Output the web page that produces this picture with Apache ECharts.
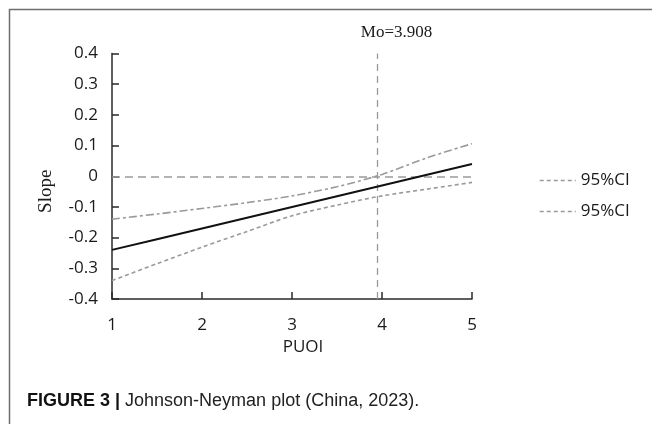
<!DOCTYPE html>
<html>
<head>
<meta charset="utf-8">
<script src="https://cdn.jsdelivr.net/npm/echarts@6/dist/echarts.min.js"></script>
<style>
  html, body { margin: 0; padding: 0; background: #fff; }
  #chart { width: 652px; height: 424px; }
</style>
</head>
<body>
<div id="chart"></div>
<script>
// values
const xValues = [1, 1.5, 2, 2.5, 3, 3.5, 4, 4.5, 5]
const slope = [-0.24, -0.205, -0.17, -0.135, -0.1, -0.065, -0.03, 0.005, 0.04]
const ciUpper = [-0.14, -0.123, -0.105, -0.086, -0.064, -0.034, 0.006, 0.06, 0.106]
const ciLower = [-0.34, -0.285, -0.231, -0.18, -0.129, -0.094, -0.064, -0.042, -0.02]
const xTicks = [1, 2, 3, 4, 5]
const moPosition = 3.95
const moLabel = 'Mo=3.908'
const legendLabel = '95%CI'
const captionBold = 'FIGURE 3 |'
const captionText = ' Johnson-Neyman plot (China, 2023).'

const gray = '#9a9a9a'
const ink = '#1a1a1a'
const sans = '"Open Sans", sans-serif'
const serif = '"Liberation Serif", "DejaVu Serif", serif'

function pairs(ys) {
  return xValues.map((x, ii) => [x, ys[ii]])
}

const legendLine = { type: [4, 3], color: gray, width: 1.5 }

const chart = echarts.init(document.getElementById('chart'), null, { renderer: 'canvas' })

chart.setOption({
  animation: false,
  backgroundColor: '#fff',
  grid: { left: 112, right: 180, top: 53.5, bottom: 125 },
  legend: {
    orient: 'vertical',
    left: 534,
    top: 167,
    itemWidth: 36,
    itemHeight: 12,
    itemGap: 14,
    formatter: () => legendLabel,
    textStyle: { fontFamily: sans, fontSize: 17, color: ink },
    data: [
      { name: 'ciUpper', lineStyle: legendLine, itemStyle: { opacity: 0 } },
      { name: 'ciLower', lineStyle: legendLine, itemStyle: { opacity: 0 } },
    ],
  },
  xAxis: {
    type: 'value',
    min: 1,
    max: 5,
    interval: 1,
    name: 'PUOI',
    nameLocation: 'middle',
    nameGap: 40,
    nameTextStyle: { fontFamily: sans, fontSize: 17, color: ink, padding: [0, 0, 0, 22] },
    axisLine: { onZero: false, lineStyle: { color: '#2a2a2a', width: 1.5 } },
    axisTick: { inside: true, length: 7, lineStyle: { color: '#2a2a2a', width: 1.5 } },
    axisLabel: {
      fontFamily: sans, fontSize: 17, color: ink, margin: 18,
      formatter: (v) => (xTicks.includes(v) ? String(v) : ''),
    },
    splitLine: { show: false },
  },
  yAxis: {
    type: 'value',
    min: -0.4,
    max: 0.4,
    interval: 0.1,
    name: 'Slope',
    nameLocation: 'middle',
    nameGap: 56,
    nameTextStyle: { fontFamily: serif, fontSize: 19, color: ink, padding: [0, 30, 0, 0] },
    axisLine: { onZero: false, lineStyle: { color: '#2a2a2a', width: 1.5 } },
    axisTick: { inside: true, length: 7, lineStyle: { color: '#2a2a2a', width: 1.5 } },
    axisLabel: {
      fontFamily: sans, fontSize: 17, color: ink, margin: 14,
      formatter: (v) => (Math.abs(v) < 1e-9 ? '0' : (Math.round(v * 10) / 10).toFixed(1)),
    },
    splitLine: { show: false },
  },
  series: [
    {
      name: 'ciUpper',
      type: 'line',
      data: pairs(ciUpper),
      symbol: 'none',
      smooth: 0.3,
      itemStyle: { color: gray },
      lineStyle: { color: gray, width: 1.6, type: [8, 3, 3, 3] },
      markLine: {
        silent: true,
        symbol: 'none',
        data: [
          {
            xAxis: moPosition,
            lineStyle: { color: gray, width: 1.3, type: [7, 5] },
            label: {
              show: true,
              position: 'end',
              formatter: moLabel,
              fontFamily: serif,
              fontSize: 17,
              color: ink,
              distance: 12,
              padding: [0, 0, 0, 38],
            },
          },
          {
            yAxis: 0,
            lineStyle: { color: gray, width: 1.5, type: [8, 5] },
            label: { show: false },
          },
        ],
      },
    },
    {
      name: 'ciLower',
      type: 'line',
      data: pairs(ciLower),
      symbol: 'none',
      smooth: 0.3,
      itemStyle: { color: gray },
      lineStyle: { color: gray, width: 1.6, type: [4, 3] },
    },
    {
      name: 'slope',
      type: 'line',
      data: pairs(slope),
      symbol: 'none',
      lineStyle: { color: '#111', width: 2 },
      z: 5,
    },
  ],
  graphic: [
    {
      type: 'polyline',
      shape: { points: [[9.5, 424], [9.5, 9.5], [652, 9.5]] },
      style: { stroke: '#6e6e6e', lineWidth: 1.5, fill: null },
      silent: true,
    },
    {
      type: 'text',
      left: 27,
      top: 392,
      style: {
        text: '{b|' + captionBold + '}{r|' + captionText + '}',
        rich: {
          b: { fontFamily: '"Liberation Sans", Arial, sans-serif', fontWeight: 'bold', fontSize: 18, fill: '#111' },
          r: { fontFamily: '"Liberation Sans", Arial, sans-serif', fontSize: 18, fill: '#222' },
        },
      },
      silent: true,
    },
  ],
})
</script>
</body>
</html>
